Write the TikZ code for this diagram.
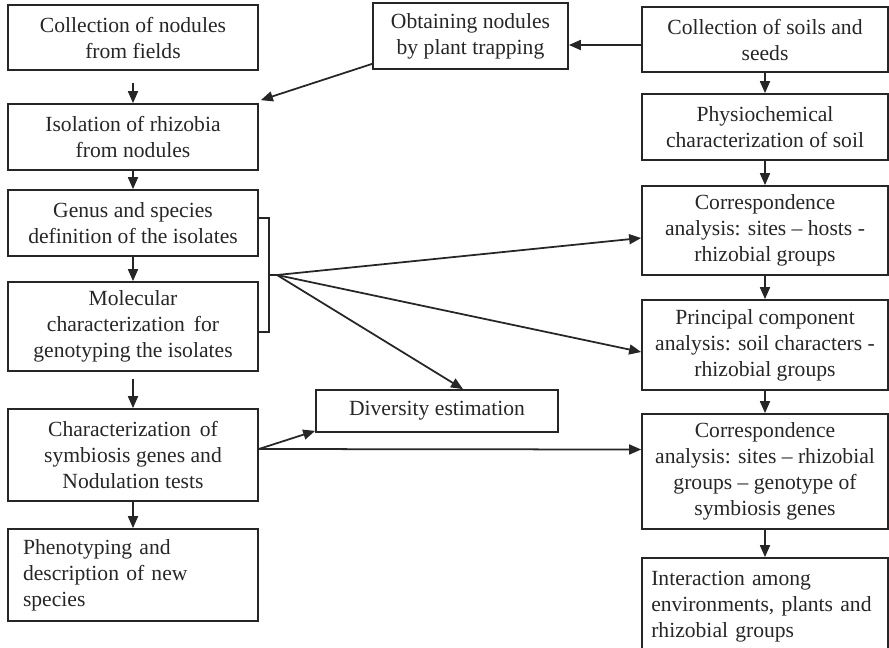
\documentclass[tikz,border=0pt]{standalone}
\usepackage{fontspec}
\setmainfont{Liberation Serif}
\usetikzlibrary{arrows.meta, calc}

\begin{document}
\begin{tikzpicture}[
    x=0.02cm, y=-0.02cm,
    every node/.style={font=\fontsize{12.3}{14.8}\selectfont, text=black!85},
    box/.style={rectangle, draw=black!85, line width=1pt, minimum width=5cm, inner sep=0pt, align=center},
    leftbox/.style={box, text width=4.4cm, align=left},
    arrow/.style={-{Triangle[length=2.4mm, width=2mm]}, line width=1pt, draw=black!85},
    link/.style={line width=1pt, draw=black!85}
]
\useasboundingbox (0,0) rectangle (889,647);
\clip (0,0) rectangle (889,647);

% ============ LEFT COLUMN: ISOLATES ============
\node[box, minimum height=1.3cm] (fields) at (133, 37.5) {Collection of nodules\\from fields};
\node[box, minimum height=1.32cm] (isolation) at (133, 137) {Isolation of rhizobia\\from nodules};
\node[box, minimum height=1.32cm] (genus) at (133, 223) {Genus and species\\definition of the isolates};
\node[box, minimum height=1.78cm] (molecular) at (133, 326.5) {Molecular\\characterization\, for\\genotyping the isolates};
\node[box, minimum height=1.84cm] (symbiosis) at (133, 455) {Characterization\, of\\symbiosis genes and\\Nodulation tests};
\node[leftbox, minimum height=1.84cm] (pheno) at (133, 575) {Phenotyping and\\description of new\\species};

% ============ TRAPPING AND DIVERSITY ============
\node[box, minimum width=3.9cm, minimum height=1.32cm] (trap) at (470.5, 36) {Obtaining nodules\\by plant trapping};
\node[box, minimum width=4.84cm, minimum height=0.84cm] (diversity) at (437, 411) {Diversity estimation};

% ============ RIGHT COLUMN: SOILS AND ANALYSES ============
\node[box, minimum width=4.92cm, minimum height=1.3cm] (soils) at (765, 39.5) {Collection of soils and\\seeds};
\node[box, minimum width=4.92cm, minimum height=1.32cm] (physio) at (765, 127) {Physiochemical\\characterization of soil};
\node[box, minimum width=4.92cm, minimum height=1.78cm] (hosts) at (765, 230.5) {Correspondence\\analysis: sites – hosts -\\rhizobial groups};
\node[box, minimum width=4.92cm, minimum height=1.8cm] (pca) at (765, 345) {Principal component\\analysis: soil characters -\\rhizobial groups};
\node[box, minimum width=4.92cm, minimum height=2.3cm] (genotype) at (765, 471.5) {Correspondence\\analysis: sites – rhizobial\\groups – genotype of\\symbiosis genes};
\node[leftbox, minimum width=4.92cm, text width=4.55cm, minimum height=1.96cm] (interaction) at (765, 607) {Interaction among\\environments, plants and\\rhizobial groups};

% ============ VERTICAL FLOW ============
\draw[arrow, shorten <=7] (fields) -- (isolation);
\draw[arrow] (isolation) -- (genus);
\draw[arrow] (genus) -- (molecular);
\draw[arrow, shorten <=4] (molecular) -- (symbiosis);
\draw[arrow] (symbiosis) -- (pheno);

\draw[arrow] (soils) -- (physio);
\draw[arrow] (physio) -- (hosts);
\draw[arrow] (hosts) -- (pca);
\draw[arrow] (pca) -- (genotype);
\draw[arrow] (genotype) -- (interaction);

% ============ CROSS LINKS ============
\draw[arrow] ($(soils.west)+(0,5.5)$) -- ($(trap.east)+(0,9)$);
\draw[arrow] ($(trap.south west)+(0,-6)$) -- ($(isolation.north east)+(2,-3)$);

% bracket joining genus and molecular
\coordinate (hub) at (277, 275);
\draw[link] ($(genus.east)+(0,-5)$) -- ++(10,0) |- ($(molecular.east)+(0,5.5)$);
\draw[link] (hub) -- ++(-9,0);
\draw[arrow] (hub) -- ($(hosts.west)+(0,7.5)$);
\draw[arrow] (hub) -- ($(pca.west)+(0,7)$);
\draw[arrow] (hub) -- ($(diversity.north)+(26,0)$);

\draw[arrow] ($(symbiosis.east)+(0,-6)$) -- ($(diversity.south west)+(0,-2)$);
\draw[arrow] ($(symbiosis.east)+(0,-6)$) -- ($(genotype.west)+(0,-22)$);

\end{tikzpicture}
\end{document}
